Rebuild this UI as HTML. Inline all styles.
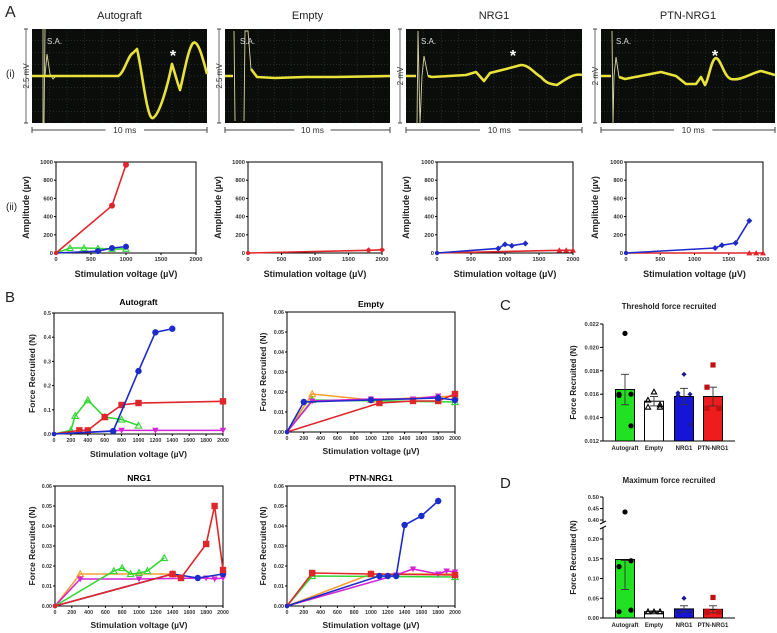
<!DOCTYPE html>
<html><head><meta charset="utf-8"><style>
html,body{margin:0;padding:0;background:#fff}
svg{display:block;font-family:"Liberation Sans",Arial,sans-serif}
</style></head><body>
<svg id="fig" width="777" height="633" viewBox="0 0 777 633" xmlns="http://www.w3.org/2000/svg"></svg>
<script>
// ---------- Data: A(ii) amplitude plots ----------
const aAutoRedX=[0,800,1000], aAutoRedY=[0,520,970];
const aAutoGreenX=[0,200,400,600,800,1000], aAutoGreenY=[0,55,55,50,45,45];
const aAutoBlueX=[0,600,800,1000], aAutoBlueY=[0,20,55,70];
const aEmptyRedX=[0,1800,2000], aEmptyRedY=[0,30,35];
const aNrgBlueX=[0,900,1000,1100,1300], aNrgBlueY=[0,50,95,80,105];
const aNrgRedX=[0,1800,1900,2000], aNrgRedY=[0,30,30,30];
const aPtnBlueX=[0,1300,1400,1600,1800], aPtnBlueY=[0,55,85,110,355];
const aPtnRedX=[0,1800,1900,2000], aPtnRedY=[0,0,0,0];
const aXTicks=[0,500,1000,1500,2000], aYTicks=[0,200,400,600,800,1000];
// ---------- Data: B force plots ----------
const bAutoGreenX=[0,200,250,400,600,800,1000], bAutoGreenY=[0,0.015,0.075,0.14,0.07,0.06,0.035];
const bAutoRedX=[0,300,400,600,800,1000,2000], bAutoRedY=[0,0.015,0.015,0.07,0.12,0.128,0.135];
const bAutoBlueX=[0,700,1000,1200,1400], bAutoBlueY=[0,0.012,0.26,0.42,0.435];
const bAutoMagX=[0,800,1200,2000], bAutoMagY=[0,0.015,0.015,0.015];
const bEmptyOrangeX=[0,300,1000,2000], bEmptyOrangeY=[0,0.019,0.016,0.018];
const bEmptyGreenX=[0,300,2000], bEmptyGreenY=[0,0.016,0.015];
const bEmptyMagX=[0,300,1000,1500,1800], bEmptyMagY=[0,0.0155,0.0165,0.0165,0.018];
const bEmptyRedX=[0,1100,1500,1800,2000], bEmptyRedY=[0,0.0145,0.0155,0.0155,0.019];
const bEmptyBlueX=[0,200,1000,1800,2000], bEmptyBlueY=[0,0.015,0.016,0.017,0.016];
const bNrgOrangeX=[0,300,1400], bNrgOrangeY=[0,0.016,0.016];
const bNrgMagX=[0,300,1000,1800,1900,2000], bNrgMagY=[0,0.0135,0.0135,0.014,0.0135,0.014];
const bNrgGreenX=[0,700,800,900,1000,1100,1300], bNrgGreenY=[0,0.0175,0.019,0.016,0.0165,0.0175,0.024];
const bNrgBlueX=[0,1400,1700,2000], bNrgBlueY=[0,0.016,0.014,0.016];
const bNrgRedX=[0,1400,1500,1800,1900,2000], bNrgRedY=[0,0.016,0.014,0.031,0.05,0.018];
const bPtnOrangeX=[0,1000,2000], bPtnOrangeY=[0,0.016,0.016];
const bPtnGreenX=[0,300,2000], bPtnGreenY=[0,0.015,0.0145];
const bPtnMagX=[0,1300,1500,1800,1900,2000], bPtnMagY=[0,0.0155,0.0185,0.016,0.0175,0.017];
const bPtnRedX=[0,300,1000,2000], bPtnRedY=[0,0.0165,0.016,0.0155];
const bPtnBlueX=[0,1100,1200,1300,1400,1600,1800], bPtnBlueY=[0,0.015,0.015,0.015,0.0405,0.045,0.0525];
const bXTicks=[0,200,400,600,800,1000,1200,1400,1600,1800,2000];
const bAutoYTicks=[0,0.1,0.2,0.3,0.4,0.5];
const bSmallYTicks=[0,0.01,0.02,0.03,0.04,0.05,0.06];
// ---------- Data: C / D bars ----------
const groups=["Autograft","Empty","NRG1","PTN-NRG1"];
const cMeans=[0.0164,0.0154,0.0158,0.0158];
const cSem=[0.0013,0.0004,0.0007,0.0008];
const cPoints=[[0.0212,0.0159,0.0160,0.0160,0.0133],[0.0162,0.0155,0.0149,0.0149,0.0151],[0.0177,0.0161,0.0160,0.0159,0.0134],[0.0185,0.0166,0.0148,0.0148,0.0148]];
const cYTicks=[0.012,0.014,0.016,0.018,0.020,0.022];
const dMeans=[0.148,0.016,0.023,0.022];
const dSem=[0.076,0.002,0.008,0.009];
const dPoints=[[0.435,0.13,0.145,0.016,0.02],[0.016,0.016,0.016,0.016,0.016],[0.05,0.016,0.015,0.014,0.016],[0.052,0.017,0.015,0.014,0.016]];
const dYTicksLow=[0,0.05,0.10,0.15,0.20], dYTicksHigh=[0.40,0.45,0.50];

const NS="http://www.w3.org/2000/svg";
const fig=document.getElementById('fig');
function mk(tag,attrs,parent){const e=document.createElementNS(NS,tag);for(const k in attrs)e.setAttribute(k,attrs[k]);(parent||fig).appendChild(e);return e;}
function txt(s,x,y,size,opts,parent){const t=mk('text',Object.assign({x:x,y:y,'font-size':size,fill:'#000'},opts||{}),parent);t.textContent=s;return t;}
const COL={red:'#e0262b',green:'#33d633',blue:'#1c2bc9',mag:'#d424d4',orange:'#f5a030'};

function marker(g,shape,x,y,c,r){
  let m;
  if(shape==='circle')m=mk('circle',{cx:x,cy:y,r:r,fill:c},g);
  else if(shape==='square')m=mk('rect',{x:x-r,y:y-r,width:2*r,height:2*r,fill:c},g);
  else if(shape==='tri')m=mk('polygon',{points:`${x},${y-r} ${x-r},${y+r*0.8} ${x+r},${y+r*0.8}`,fill:'none',stroke:c,'stroke-width':1.1},g);
  else if(shape==='trif')m=mk('polygon',{points:`${x},${y-r} ${x-r},${y+r*0.8} ${x+r},${y+r*0.8}`,fill:c},g);
  else if(shape==='trid')m=mk('polygon',{points:`${x},${y+r} ${x-r},${y-r*0.8} ${x+r},${y-r*0.8}`,fill:c},g);
  else if(shape==='diamond')m=mk('polygon',{points:`${x},${y-r} ${x+r},${y} ${x},${y+r} ${x-r},${y}`,fill:c},g);
  else m=mk('circle',{cx:x,cy:y,r:r*0.7,fill:c},g);
  
  
}

function lineChart(c){
  const g=mk('g',{});
  
  
  const sx=v=>c.x0+v/c.xmax*(c.x1-c.x0);
  const sy=v=>c.y0-(v-c.ymin)/(c.ymax-c.ymin)*(c.y0-c.y1);
  const frame=mk('rect',{x:c.x0,y:c.y1,width:c.x1-c.x0,height:c.y0-c.y1,fill:'none',stroke:'#000','stroke-width':1},g);
  
  
  c.xt.forEach(v=>{mk('line',{x1:sx(v),x2:sx(v),y1:c.y0,y2:c.y0+2,stroke:'#000'},g);
    const t=txt(String(v),sx(v),c.y0+8,c.ts,{'text-anchor':'middle','font-weight':'bold',fill:'#333'},g);
    
    });
  c.yt.forEach(v=>{mk('line',{x1:c.x0-2,x2:c.x0,y1:sy(v),y2:sy(v),stroke:'#000'},g);
    const t=txt(c.yf(v),c.x0-3,sy(v)+2,c.ts,{'text-anchor':'end','font-weight':'bold',fill:'#333'},g);
    
    });
  c.series.forEach(s=>{
    const pts=s.x.map((v,i)=>sx(v)+','+sy(s.y[i])).join(' ');
    const pl=mk('polyline',{points:pts,fill:'none',stroke:s.c,'stroke-width':1.6},g);
    
    
    s.x.forEach((v,i)=>{if(i>0)marker(g,s.m,sx(v),sy(s.y[i]),s.c,c.mr);});
    marker(g,'dot',sx(s.x[0]),sy(s.y[0]),s.c,c.mr);
  });
  if(c.title){const t=txt(c.title,(c.x0+c.x1)/2,c.ty,8.5,{'text-anchor':'middle','font-weight':'bold'},g);
    
    }
  const xl=txt(c.xl,(c.x0+c.x1)/2,c.xly,c.ls,{'text-anchor':'middle','font-weight':'bold',fill:'#222'},g);
  
  
  const yl=txt(c.yl,0,0,c.ls,{'text-anchor':'middle','font-weight':'bold',fill:'#222',transform:`translate(${c.ylx},${(c.y0+c.y1)/2}) rotate(-90)`},g);
  
  
}

// ---------- Panel letters ----------
[['A',5,17,16],['(i)',6,77,10],['(ii)',6,210,10],['B',5,302,15],['C',500,310,15],['D',500,488,15]].forEach(a=>{
  const t=txt(a[0],a[1],a[2],a[3],{fill:'#222'});
  
  
});

// ---------- Oscilloscope traces ----------
const scopes=[
 {name:'autograft',title:'Autograft',x:32,w:175,sc:'2.5 mV',star:[141,22],
  tr:'M0,47 L86,47 C92,45 96,26 101,24 L105,20 C110,40 115,92 121,89 C128,85 136,55 140,35 L146,55 L148,61 C152,45 156,20 161,14 C166,10 171,30 175,45',
  sa:'M11,0 L11,94 M12,94 L13,0 M13,47 L15,25 L18,45 L21,50 L24,47'},
 {name:'empty',title:'Empty',x:225,w:165,sc:'2.5 mV',star:null,
  tr:'M0,47 L8,47 M26,40 L32,48 L50,49 L80,48 L110,48 L165,47',
  sa:'M9,2 L10,92 M19,92 L20,2 L23,2 L26,40'},
 {name:'nrg1',title:'NRG1',x:406,w:176,sc:'2 mV',star:[107,22],
  tr:'M0,47 L10,47 M22,47 L26,48 L60,46 L70,43 L78,52 L84,44 L100,40 L115,36 C123,36 128,44 135,48 C141,55 145,55 151,56 C160,50 168,44 176,46',
  sa:'M11,95 L12,2 L14,95 L16,47 L18,27 L22,47'},
 {name:'ptn-nrg1',title:'PTN-NRG1',x:601,w:174,sc:'2 mV',star:[114,22],
  tr:'M0,47 L10,47 M18,48 L24,50 L60,43 L75,47 L85,55 L95,55 L100,48 L104,56 C108,50 110,30 115,29 C120,30 123,48 130,50 C140,52 150,44 160,42 L174,46',
  sa:'M11,2 L12,95 L13,47 L15,28 L18,48'}
];
scopes.forEach(s=>{
  const g=mk('g',{transform:`translate(${s.x},29)`});
  
  
  mk('rect',{x:0,y:0,width:s.w,height:94,fill:'#0b0d0b'},g);
  for(let i=1;i<10;i++)mk('line',{x1:s.w*i/10,x2:s.w*i/10,y1:0,y2:94,stroke:'#3a4a3a','stroke-width':0.5,'stroke-dasharray':'1,2'},g);
  for(let j=1;j<8;j++)mk('line',{x1:0,x2:s.w,y1:94*j/8,y2:94*j/8,stroke:'#3a4a3a','stroke-width':0.5,'stroke-dasharray':'1,2'},g);
  const art=mk('path',{d:s.sa,fill:'none',stroke:'#d8d6a0','stroke-width':0.9},g);
  
  
  const tr=mk('path',{d:s.tr,fill:'none',stroke:'#e8e23a','stroke-width':2.6,'stroke-linejoin':'round'},g);
  
  
  const sa=txt('S.A.',15,15,8,{fill:'#ddd'},g);
  
  
  if(s.star){const st=txt('*',s.star[0],s.star[1]+10,16,{fill:'#fff','text-anchor':'middle','font-weight':'bold'},g);
    
    }
  mk('line',{x1:-6,x2:-6,y1:0,y2:94,stroke:'#444','stroke-width':0.8},g);
  mk('line',{x1:-8,x2:-4,y1:0,y2:0,stroke:'#444'},g);mk('line',{x1:-8,x2:-4,y1:94,y2:94,stroke:'#444'},g);
  const sc=txt(s.sc,0,0,8,{fill:'#333','text-anchor':'middle',transform:'translate(-3,47) rotate(-90)'},g);
  
  
  mk('line',{x1:0,x2:s.w*0.42,y1:101,y2:101,stroke:'#444'},g);
  mk('line',{x1:s.w*0.64,x2:s.w,y1:101,y2:101,stroke:'#444'},g);
  mk('line',{x1:0,x2:0,y1:98,y2:104,stroke:'#444'},g);mk('line',{x1:s.w,x2:s.w,y1:98,y2:104,stroke:'#444'},g);
  const tb=txt('10 ms',s.w*0.53,104,8.5,{fill:'#333','text-anchor':'middle'},g);
  
  
  const ti=txt(s.title,s.w/2,-10,11,{fill:'#222','text-anchor':'middle'},g);
  
  
});

// ---------- A(ii) charts ----------
const aFmt=v=>String(v);
const aCharts=[
 {name:'amplitude-autograft',x0:56,x1:196,ylx:29,series:[
   {x:aAutoGreenX,y:aAutoGreenY,c:COL.green,m:'tri'},{x:aAutoBlueX,y:aAutoBlueY,c:COL.blue,m:'circle'},{x:aAutoRedX,y:aAutoRedY,c:COL.red,m:'circle'}]},
 {name:'amplitude-empty',x0:248,x1:382,ylx:221,series:[{x:aEmptyRedX,y:aEmptyRedY,c:COL.red,m:'diamond'}]},
 {name:'amplitude-nrg1',x0:437,x1:573,ylx:409,series:[{x:aNrgRedX,y:aNrgRedY,c:COL.red,m:'trif'},{x:aNrgBlueX,y:aNrgBlueY,c:COL.blue,m:'diamond'}]},
 {name:'amplitude-ptn-nrg1',x0:626,x1:763,ylx:598,series:[{x:aPtnRedX,y:aPtnRedY,c:COL.red,m:'trif'},{x:aPtnBlueX,y:aPtnBlueY,c:COL.blue,m:'diamond'}]}
];
aCharts.forEach(a=>{
  lineChart({name:a.name,x0:a.x0,x1:a.x1,y0:253,y1:162,xmax:2000,ymin:0,ymax:1000,xt:aXTicks,yt:aYTicks,yf:aFmt,ts:5.8,ls:9,
    series:a.series,xl:'Stimulation voltage (µV)',xly:277,yl:'Amplitude (µv)',ylx:a.ylx,mr:3});
});

// ---------- B charts ----------
const f1=v=>v.toFixed(1), f2=v=>v.toFixed(2);
lineChart({name:'force-autograft',title:'Autograft',ty:305,x0:54,x1:223,y0:434,y1:313,xmax:2000,ymin:0,ymax:0.5,xt:bXTicks,yt:bAutoYTicks,yf:f1,ts:5.3,ls:8.5,
  xl:'Stimulation voltage (µV)',xly:457,yl:'Force Recruited (N)',ylx:35,mr:3.2,series:[
  {x:bAutoMagX,y:bAutoMagY,c:COL.mag,m:'trid'},{x:bAutoGreenX,y:bAutoGreenY,c:COL.green,m:'tri'},
  {x:bAutoRedX,y:bAutoRedY,c:COL.red,m:'square'},{x:bAutoBlueX,y:bAutoBlueY,c:COL.blue,m:'circle'}]});
lineChart({name:'force-empty',title:'Empty',ty:307,x0:287,x1:455,y0:432,y1:312,xmax:2000,ymin:0,ymax:0.06,xt:bXTicks,yt:bSmallYTicks,yf:f2,ts:5.3,ls:8.5,
  xl:'Stimulation voltage (µV)',xly:454,yl:'Force Recruited (N)',ylx:266,mr:3.2,series:[
  {x:bEmptyOrangeX,y:bEmptyOrangeY,c:COL.orange,m:'tri'},{x:bEmptyGreenX,y:bEmptyGreenY,c:COL.green,m:'tri'},
  {x:bEmptyMagX,y:bEmptyMagY,c:COL.mag,m:'trid'},{x:bEmptyRedX,y:bEmptyRedY,c:COL.red,m:'square'},{x:bEmptyBlueX,y:bEmptyBlueY,c:COL.blue,m:'circle'}]});
lineChart({name:'force-nrg1',title:'NRG1',ty:481,x0:55,x1:223,y0:606,y1:486,xmax:2000,ymin:0,ymax:0.06,xt:bXTicks,yt:bSmallYTicks,yf:f2,ts:5.3,ls:8.5,
  xl:'Stimulation voltage (µV)',xly:628,yl:'Force Recruited (N)',ylx:35,mr:3.2,series:[
  {x:bNrgOrangeX,y:bNrgOrangeY,c:COL.orange,m:'tri'},{x:bNrgMagX,y:bNrgMagY,c:COL.mag,m:'trid'},
  {x:bNrgGreenX,y:bNrgGreenY,c:COL.green,m:'tri'},{x:bNrgBlueX,y:bNrgBlueY,c:COL.blue,m:'circle'},{x:bNrgRedX,y:bNrgRedY,c:COL.red,m:'square'}]});
lineChart({name:'force-ptn-nrg1',title:'PTN-NRG1',ty:481,x0:287,x1:455,y0:606,y1:486,xmax:2000,ymin:0,ymax:0.06,xt:bXTicks,yt:bSmallYTicks,yf:f2,ts:5.3,ls:8.5,
  xl:'Stimulation voltage (µV)',xly:628,yl:'Force Recruited (N)',ylx:266,mr:3.2,series:[
  {x:bPtnOrangeX,y:bPtnOrangeY,c:COL.orange,m:'tri'},{x:bPtnGreenX,y:bPtnGreenY,c:COL.green,m:'tri'},
  {x:bPtnMagX,y:bPtnMagY,c:COL.mag,m:'trid'},{x:bPtnRedX,y:bPtnRedY,c:COL.red,m:'square'},{x:bPtnBlueX,y:bPtnBlueY,c:COL.blue,m:'circle'}]});

// ---------- C / D bar charts ----------
const barFill=['#22e022','#ffffff','#1515d8','#ee1c1c'];
const ptColor=['#000','#000','#1a1a9a','#c01010'];
const ptShape=['circle','tri','diamond','square'];
const barCx=[625,654,684,713];
function barChart(c){
  const g=mk('g',{});
  
  
  mk('line',{x1:c.x0,x2:c.x0,y1:c.ytop,y2:c.y0,stroke:'#000','stroke-width':1},g);
  mk('line',{x1:c.x0,x2:735,y1:c.y0,y2:c.y0,stroke:'#000','stroke-width':1},g);
  c.ticks.forEach(v=>{mk('line',{x1:c.x0-3,x2:c.x0,y1:c.sy(v),y2:c.sy(v),stroke:'#000'},g);
    const t=txt(c.fmt(v),c.x0-4,c.sy(v)+2,5.8,{'text-anchor':'end','font-weight':'bold',fill:'#333'},g);
    
    });
  groups.forEach((gname,i)=>{
    const cx=barCx[i], top=c.sy(c.means[i]);
    const b=mk('rect',{x:cx-9.5,y:top,width:19,height:c.y0-top,fill:barFill[i],stroke:'#000','stroke-width':1},g);
    
    
    const hi=c.sy(c.means[i]+c.sem[i]), lo=c.sy(c.means[i]-c.sem[i]);
    mk('line',{x1:cx,x2:cx,y1:hi,y2:lo,stroke:'#333','stroke-width':0.9},g);
    mk('line',{x1:cx-4,x2:cx+4,y1:hi,y2:hi,stroke:'#333','stroke-width':0.9},g);
    mk('line',{x1:cx-4,x2:cx+4,y1:lo,y2:lo,stroke:'#333','stroke-width':0.9},g);
    const offs=[0,-6,6,-6,6];
    c.pts[i].forEach((v,k)=>marker(g,ptShape[i],cx+offs[k],c.sy(v),ptColor[i],2.6));
    const t=txt(gname,cx,c.y0+9,6,{'text-anchor':'middle','font-weight':'bold',fill:'#222'},g);
    
    
  });
  const t=txt(c.title,669,c.ty,7.8,{'text-anchor':'middle','font-weight':'bold',fill:'#222'},g);
  
  
  const yl=txt('Force Recruited (N)',0,0,8,{'text-anchor':'middle','font-weight':'bold',fill:'#222',transform:`translate(576,${(c.y0+c.ytop)/2}) rotate(-90)`},g);
  
  
  return g;
}
barChart({name:'threshold-force-chart',title:'Threshold force recruited',ty:309,x0:603,y0:441,ytop:324,ticks:cYTicks,fmt:v=>v.toFixed(3),
  sy:v=>441-(v-0.012)/0.010*117,means:cMeans,sem:cSem,pts:cPoints});
const dSy=v=>v<=0.22?618-v*395:520-(v-0.40)*230;
const dg=barChart({name:'maximum-force-chart',title:'Maximum force recruited',ty:483,x0:603,y0:618,ytop:497,ticks:dYTicksLow.concat(dYTicksHigh),fmt:v=>v.toFixed(2),
  sy:dSy,means:dMeans,sem:dSem,pts:dPoints});
mk('rect',{x:599,y:523,width:8,height:5,fill:'#fff'},dg);
mk('line',{x1:600,x2:606,y1:524,y2:521,stroke:'#000'},dg);
mk('line',{x1:600,x2:606,y1:529,y2:526,stroke:'#000'},dg);
</script>
</body></html>
